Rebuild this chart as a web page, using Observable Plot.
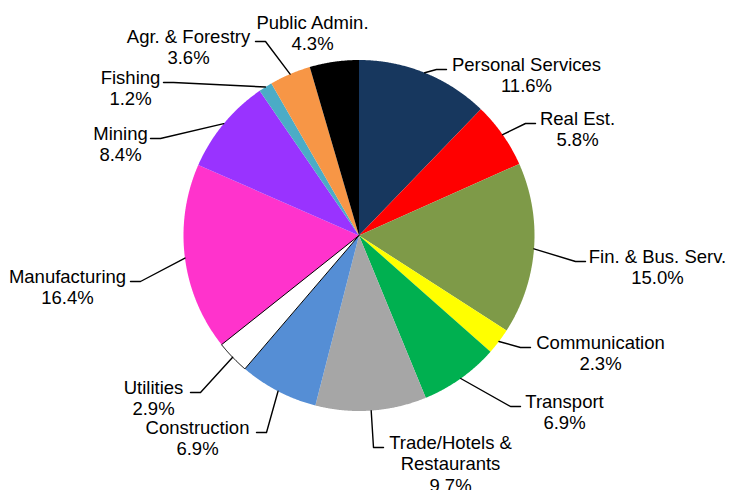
<!DOCTYPE html>
<html>
<head>
<meta charset="utf-8">
<script src="https://cdn.jsdelivr.net/npm/d3@7"></script>
<script src="https://cdn.jsdelivr.net/npm/@observablehq/plot@0.6"></script>
<style>
  html, body { margin: 0; padding: 0; background: #fff; }
  #chart svg { display: block; }
</style>
</head>
<body>
<div id="chart"></div>
<script>
// Sector shares of output, clockwise from 12 o'clock
const categories = [
  "Personal Services", "Real Est.", "Fin. & Bus. Serv.", "Communication",
  "Transport", "Trade/Hotels &\nRestaurants", "Construction", "Utilities",
  "Manufacturing", "Mining", "Fishing", "Agr. & Forestry", "Public Admin."
];
const shares = [11.6, 5.8, 15.0, 2.3, 6.9, 9.7, 6.9, 2.9, 16.4, 8.4, 1.2, 3.6, 4.3];
const sliceColors = [
  "#17375e", "#ff0000", "#7e9a48", "#ffff00", "#00b050", "#a6a6a6",
  "#558ed5", "#ffffff", "#ff33cc", "#9933ff", "#4bacc6", "#f79646", "#000000"
];

// Callout layout: label centre (x, y of first line) and where the leader meets the label
const calloutLayout = [
  {tx: 526, ty: 64, hx: 446},
  {tx: 577, ty: 118, hx: 535},
  {tx: 657, ty: 256, hx: 585},
  {tx: 600, ty: 342, hx: 530},
  {tx: 564, ty: 401, hx: 520},
  {tx: 450, ty: 442, hx: 383},
  {tx: 197, ty: 427, hx: 256},
  {tx: 153, ty: 387, hx: 190},
  {tx: 67, ty: 276, hx: 130},
  {tx: 120, ty: 133, hx: 150},
  {tx: 130, ty: 77, hx: 163},
  {tx: 188, ty: 36, hx: 255},
  {tx: 312, ty: 22, hx: null}
];

const W = 729, H = 490;
const cx = 358.5, cy = 235, R = 175.5;
const fontSize = 18.5;

const arcs = d3.pie().sort(null).value(d => d)(shares);
const pt = (a, r) => [cx + r * Math.sin(a), cy - r * Math.cos(a)];

// Slice outlines as closed polygons
const slices = [];
arcs.forEach((a, i) => {
  const steps = Math.max(2, Math.ceil((a.endAngle - a.startAngle) / 0.005));
  slices.push({i, x: cx, y: cy});
  for (let k = 0; k <= steps; ++k) {
    const ang = a.startAngle + (a.endAngle - a.startAngle) * k / steps;
    const [x, y] = pt(ang, R);
    slices.push({i, x, y});
  }
  slices.push({i, x: cx, y: cy});
});

// Leader lines: from the rim at the slice's mid-angle, to an elbow, then a short run to the label
const leaders = [];
arcs.forEach((a, i) => {
  const c = calloutLayout[i];
  if (c.hx == null) return;
  const mid = (a.startAngle + a.endAngle) / 2;
  const [px, py] = pt(mid, R);
  const hy = c.ty + 5;
  const side = c.tx > c.hx ? 1 : -1;
  leaders.push({i, x: px, y: py});
  leaders.push({i, x: c.hx - side * 10, y: hy});
  leaders.push({i, x: c.hx, y: hy});
});

const labels = categories.map((name, i) => ({
  text: `${name}\n${shares[i].toFixed(1)}%`,
  x: calloutLayout[i].tx,
  y: calloutLayout[i].ty - 0.5 * fontSize
}));

const chart = Plot.plot({
  width: W,
  height: H,
  margin: 0,
  x: {domain: [0, W], range: [0, W], axis: null},
  y: {domain: [0, H], range: [0, H], axis: null},
  color: {type: "identity"},
  style: {background: "#fff", fontFamily: "'Liberation Sans', Arial, sans-serif"},
  marks: [
    Plot.line(slices, {
      x: "x", y: "y", z: "i",
      fill: d => sliceColors[d.i],
      stroke: "none",
      curve: "linear-closed"
    }),
    Plot.line(slices.filter(d => categories[d.i] === "Utilities"), {
      x: "x", y: "y", z: "i",
      fill: "none",
      stroke: "#000",
      strokeWidth: 1,
      curve: "linear-closed"
    }),
    Plot.line(leaders, {
      x: "x", y: "y", z: "i",
      stroke: "#000",
      strokeWidth: 1.4,
      curve: "linear"
    }),
    Plot.text(labels, {
      x: "x", y: "y", text: "text",
      fontSize,
      lineHeight: 1.17,
      lineAnchor: "top",
      textAnchor: "middle",
      fill: "#000"
    })
  ]
});

document.getElementById("chart").appendChild(chart);
</script>
</body>
</html>
